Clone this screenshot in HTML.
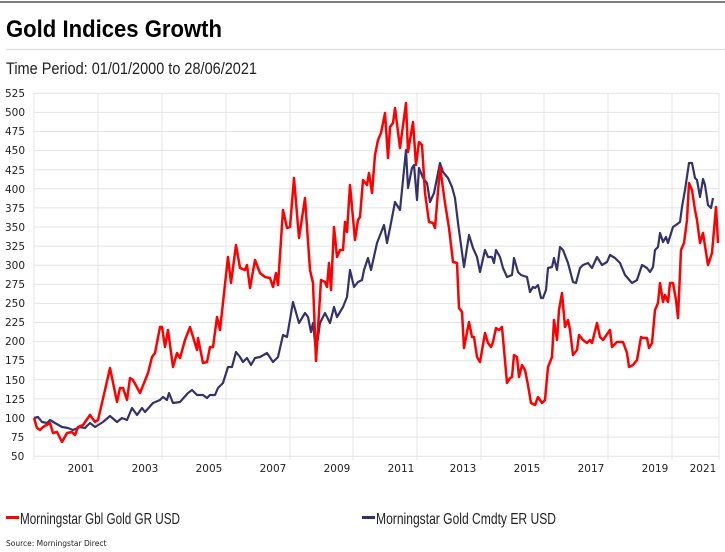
<!DOCTYPE html>
<html><head><meta charset="utf-8"><style>
body{margin:0;background:#fff;width:725px;height:552px;overflow:hidden}
svg{display:block}
</style></head><body>
<svg width="725" height="552" xmlns="http://www.w3.org/2000/svg">
<line x1="0" y1="2" x2="725" y2="2" stroke="#555" stroke-width="1.5"/>
<text x="6" y="37" font-family="Liberation Sans Narrow, Liberation Sans, sans-serif" font-weight="bold" font-size="24" fill="#000" textLength="216" lengthAdjust="spacingAndGlyphs">Gold Indices Growth</text>
<line x1="6" y1="49.5" x2="725" y2="49.5" stroke="#e2e2e2" stroke-width="1.5"/>
<text x="6" y="74" font-family="Liberation Sans Narrow, Liberation Sans, sans-serif" font-size="17" fill="#222" textLength="251" lengthAdjust="spacingAndGlyphs">Time Period: 01/01/2000 to 28/06/2021</text>
<g stroke="#e4e4e4" stroke-width="1">
<line x1="34" x2="719" y1="93.3" y2="93.3"/><line x1="34" x2="719" y1="112.4" y2="112.4"/><line x1="34" x2="719" y1="131.5" y2="131.5"/><line x1="34" x2="719" y1="150.6" y2="150.6"/><line x1="34" x2="719" y1="169.7" y2="169.7"/><line x1="34" x2="719" y1="188.8" y2="188.8"/><line x1="34" x2="719" y1="207.9" y2="207.9"/><line x1="34" x2="719" y1="227" y2="227"/><line x1="34" x2="719" y1="246.1" y2="246.1"/><line x1="34" x2="719" y1="265.2" y2="265.2"/><line x1="34" x2="719" y1="284.3" y2="284.3"/><line x1="34" x2="719" y1="303.4" y2="303.4"/><line x1="34" x2="719" y1="322.5" y2="322.5"/><line x1="34" x2="719" y1="341.6" y2="341.6"/><line x1="34" x2="719" y1="360.7" y2="360.7"/><line x1="34" x2="719" y1="379.8" y2="379.8"/><line x1="34" x2="719" y1="398.9" y2="398.9"/><line x1="34" x2="719" y1="418" y2="418"/><line x1="34" x2="719" y1="437.1" y2="437.1"/><line x1="34" x2="719" y1="456.2" y2="456.2"/>
<line x1="34" x2="34" y1="93" y2="460"/><line x1="98" x2="98" y1="93" y2="460"/><line x1="162" x2="162" y1="93" y2="460"/><line x1="226" x2="226" y1="93" y2="460"/><line x1="290" x2="290" y1="93" y2="460"/><line x1="353" x2="353" y1="93" y2="460"/><line x1="417" x2="417" y1="93" y2="460"/><line x1="481" x2="481" y1="93" y2="460"/><line x1="544" x2="544" y1="93" y2="460"/><line x1="608" x2="608" y1="93" y2="460"/><line x1="672" x2="672" y1="93" y2="460"/><line x1="719" x2="719" y1="93" y2="460"/>
</g>
<g font-family="DejaVu Sans, sans-serif" font-size="10.5" fill="#222">
<text x="5" y="97">525</text><text x="5" y="116">500</text><text x="5" y="135">475</text><text x="5" y="154">450</text><text x="5" y="174">425</text><text x="5" y="193">400</text><text x="5" y="212">375</text><text x="5" y="231">350</text><text x="5" y="250">325</text><text x="5" y="269">300</text><text x="5" y="288">275</text><text x="5" y="307">250</text><text x="5" y="326">225</text><text x="5" y="345">200</text><text x="5" y="364">175</text><text x="5" y="384">150</text><text x="5" y="403">125</text><text x="5" y="422">100</text><text x="11" y="441">75</text><text x="11" y="460">50</text>
</g>
<g font-family="DejaVu Sans, sans-serif" font-size="10.5" fill="#222" text-anchor="middle">
<text x="81" y="472">2001</text><text x="145" y="472">2003</text><text x="209" y="472">2005</text><text x="273" y="472">2007</text><text x="337" y="472">2009</text><text x="401" y="472">2011</text><text x="463" y="472">2013</text><text x="527" y="472">2015</text><text x="591" y="472">2017</text><text x="655" y="472">2019</text><text x="703" y="472">2021</text>
</g>
<polyline fill="none" stroke="#33336a" stroke-width="2.2" stroke-linejoin="round" points="34,418 38,417 42,422 47,423 50,420 55,423 62,427 68,428 73,430 80,427 85,428 90,423 95,427 103,422 110,416 117,422 122,418 127,420 132,408 137,415 142,408 145,412 153,403 160,400 163,397 167,400 169,393 173,403 180,402 188,393 192,390 197,395 203,395 207,398 210,395 215,395 218,388 223,383 228,367 232,367 236,352 240,357 243,362 247,358 251,365 255,358 260,357 267,353 273,362 278,357 283,335 287,337 293,302 299,323 305,313 308,317 311,332 313,323 316,352 320,323 325,313 330,323 334,307 337,317 343,307 347,297 350,270 354,287 358,282 362,280 364,270 368,258 371,270 377,243 384,225 387,243 391,223 395,202 400,210 406,150 408,188 412,168 414,165 417,200 419,168 423,178 427,183 430,202 434,193 440,163 443,172 448,178 452,187 455,198 458,223 464,267 469,235 473,248 477,257 480,272 485,250 488,257 492,257 494,263 496,250 500,257 503,268 507,277 512,275 514,258 518,272 521,275 527,277 530,292 533,287 535,288 538,285 541,298 543,298 546,290 548,268 552,267 554,258 557,270 560,247 563,250 568,263 573,282 576,283 580,268 583,265 588,263 592,268 597,257 602,265 607,262 610,255 615,258 620,263 625,275 632,283 637,280 642,265 647,268 650,272 653,267 655,250 658,247 660,233 663,242 666,237 668,243 673,227 676,225 680,222 682,207 685,190 689,163 692,163 695,178 697,180 700,197 703,179 705,185 708,205 711,208 713,198"/>
<polyline fill="none" stroke="#f00" stroke-width="2.5" stroke-linejoin="round" points="34,418 37,428 40,430 43,427 50,423 53,433 57,432 62,442 67,433 72,432 75,435 78,427 83,425 90,415 95,422 98,420 105,390 110,368 117,402 120,388 123,388 127,400 130,378 133,380 140,393 148,373 152,357 155,353 160,327 162,327 165,347 168,330 173,367 177,353 180,358 185,340 190,327 197,350 198,338 203,363 207,362 210,347 213,347 217,317 220,330 228,257 231,283 236,245 240,268 245,270 247,265 250,288 255,260 260,273 265,277 270,278 273,287 276,273 278,285 283,210 287,228 290,227 294,178 299,238 305,198 310,270 313,283 316,361 321,280 325,282 327,287 329,263 331,290 334,227 337,257 340,250 343,250 345,222 347,232 350,185 355,240 358,220 360,217 363,180 367,185 369,173 372,193 375,155 378,140 381,133 385,113 388,158 390,127 393,123 395,108 400,148 406,103 408,152 413,122 416,165 419,142 422,145 425,193 429,222 433,223 435,228 440,167 445,203 449,228 453,262 457,263 459,308 462,312 464,348 469,322 472,337 474,337 477,357 480,362 485,333 488,343 491,347 493,342 496,328 499,330 502,327 507,383 510,378 512,377 514,355 517,357 519,377 522,365 525,370 528,385 531,403 535,405 538,397 542,403 545,400 548,367 552,357 554,320 557,340 559,310 562,293 565,327 568,320 570,330 573,355 577,350 579,335 583,340 587,343 590,340 592,343 597,323 600,337 603,340 610,330 612,347 617,342 623,342 627,353 629,367 633,365 637,360 641,337 643,338 647,338 649,348 652,343 655,310 658,303 660,283 663,302 665,295 668,302 670,283 673,283 676,300 678,318 681,250 684,243 687,220 689,183 692,190 695,210 697,220 700,243 703,233 708,265 712,253 716,207 718,243"/>
<rect x="6" y="516" width="13" height="3" fill="#f00"/>
<text x="20" y="524" font-family="Liberation Sans Narrow, Liberation Sans, sans-serif" font-size="16" fill="#222" textLength="160" lengthAdjust="spacingAndGlyphs">Morningstar Gbl Gold GR USD</text>
<rect x="362" y="516" width="13" height="3" fill="#33336a"/>
<text x="376" y="524" font-family="Liberation Sans Narrow, Liberation Sans, sans-serif" font-size="16" fill="#222" textLength="180" lengthAdjust="spacingAndGlyphs">Morningstar Gold Cmdty ER USD</text>
<text x="6" y="546" font-family="DejaVu Sans, sans-serif" font-size="7.5" fill="#222">Source: Morningstar Direct</text>
</svg>
</body></html>
